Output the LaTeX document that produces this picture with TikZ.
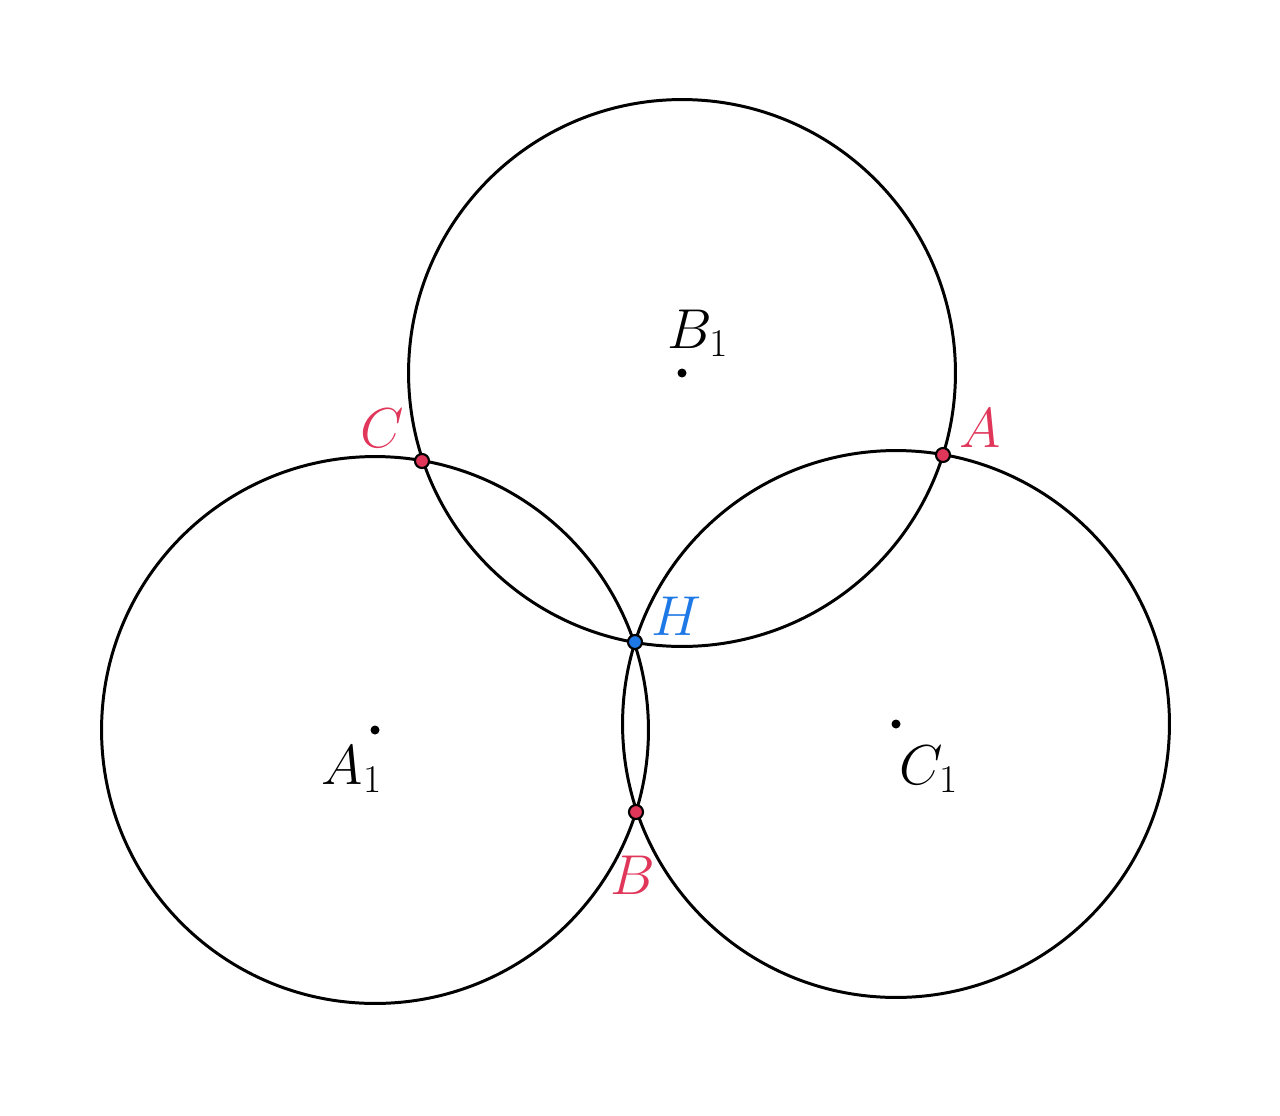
\RequirePackage{fix-cm}
\documentclass[tikz,border=0pt]{standalone}
\usetikzlibrary{calc}
\definecolor{ptred}{HTML}{E0365A}
\definecolor{ptblue}{HTML}{1E78E6}
\begin{document}
\begin{tikzpicture}[x=0.02cm,y=-0.02cm,
  circ/.style={line width=1.7pt},
  ctr/.style={fill=black},
  redpt/.style={fill=ptred,draw=black,line width=1.2pt},
  bluept/.style={fill=ptblue,draw=black,line width=1.2pt},
  lbl/.style={font=\fontsize{32}{38}\selectfont,anchor=base,inner sep=0pt}]
\useasboundingbox (0,0) rectangle (1280,1115);
\coordinate (H) at (635,642);
\coordinate (A1) at (375,730);
\coordinate (B1) at (682,373);
\coordinate (C1) at (896,724);
\coordinate (A) at ($(B1)+(C1)-(H)$);
\coordinate (B) at ($(A1)+(C1)-(H)$);
\coordinate (C) at ($(A1)+(B1)-(H)$);
\draw[circ] (A1) circle[radius=5.47cm];
\draw[circ] (B1) circle[radius=5.47cm];
\draw[circ] (C1) circle[radius=5.47cm];
\fill[ctr] (A1) circle[radius=0.09cm];
\fill[ctr] (B1) circle[radius=0.09cm];
\fill[ctr] (C1) circle[radius=0.09cm];
\draw[redpt] (A) circle[radius=0.14cm];
\draw[redpt] (B) circle[radius=0.14cm];
\draw[redpt] (C) circle[radius=0.14cm];
\draw[bluept] (H) circle[radius=0.14cm];
\node[lbl] (lB1) at (698,348) {$B_1$};
\node[lbl] (lA1) at (352,784) {$A_1$};
\node[lbl] (lC1) at (929,784) {$C_1$};
\node[lbl,text=ptred] (lC) at (382,447) {$C$};
\node[lbl,text=ptred] (lA) at (980,447) {$A$};
\node[lbl,text=ptblue] (lH) at (676,635) {$H$};
\node[lbl,text=ptred] (lB) at (633,894) {$B$};
\end{tikzpicture}
\end{document}
